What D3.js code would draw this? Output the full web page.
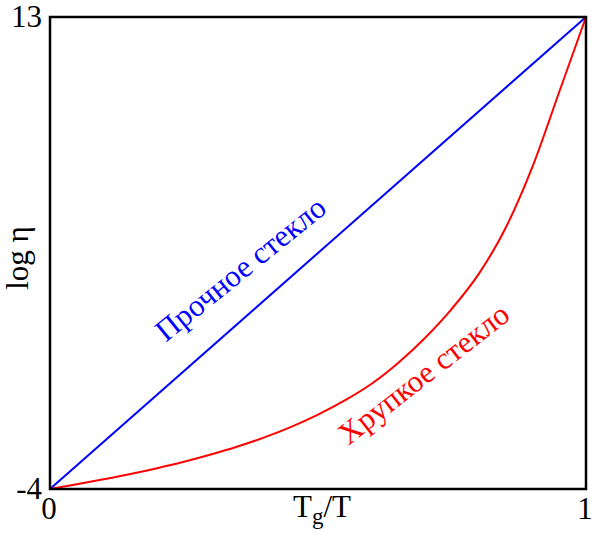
<!DOCTYPE html>
<html>
<head>
<meta charset="utf-8">
<script src="https://cdn.jsdelivr.net/npm/d3@7"></script>
<style>
  body { margin: 0; background: #fff; }
</style>
</head>
<body>
<div id="graph"></div>
<script>
var width = 600;
var height = 548;
var margin = {top: 17, right: 14, bottom: 59, left: 50};
var serif = "'Liberation Serif', 'Times New Roman', 'DejaVu Serif', serif";

// data
var xDomain = [0, 1];
var yDomain = [-4, 13];
var xTickLabels = ["0", "1"];
var yTickLabels = ["-4", "13"];
var strongX = [0, 1];
var strongY = [-4, 13];
var fragileX = [0, 0.05, 0.1, 0.15, 0.2, 0.25, 0.3, 0.35, 0.4, 0.45, 0.5, 0.55, 0.6, 0.65, 0.7, 0.75, 0.8, 0.85, 0.9, 0.95, 1];
var fragileY = [-4, -3.83, -3.65, -3.46, -3.25, -3.02, -2.76, -2.47, -2.14, -1.76, -1.32, -0.81, -0.21, 0.55, 1.45, 2.5, 3.75, 5.4, 7.6, 10.3, 13];

var w = width - margin.left - margin.right;
var h = height - margin.top - margin.bottom;

var svg = d3.select("#graph")
    .append("svg")
    .attr("width", width)
    .attr("height", height)
    .attr("font-family", serif);

var g = svg.append("g")
    .attr("transform", "translate(" + margin.left + "," + margin.top + ")");

var x = d3.scaleLinear().domain(xDomain).range([0, w]);
var y = d3.scaleLinear().domain(yDomain).range([h, 0]);

var line = d3.line()
    .x(function(d) { return x(d[0]); })
    .y(function(d) { return y(d[1]); })
    .curve(d3.curveMonotoneX);

g.append("path")
    .datum(strongX.map(function(v, i) { return [v, strongY[i]]; }))
    .attr("d", line)
    .attr("fill", "none")
    .attr("stroke", "#0000ff")
    .attr("stroke-width", 2);

g.append("path")
    .datum(fragileX.map(function(v, i) { return [v, fragileY[i]]; }))
    .attr("d", line)
    .attr("fill", "none")
    .attr("stroke", "#ff0000")
    .attr("stroke-width", 2);

// frame
g.append("rect")
    .attr("x", 0)
    .attr("y", 0)
    .attr("width", w)
    .attr("height", h)
    .attr("fill", "none")
    .attr("stroke", "#000")
    .attr("stroke-width", 2.5);

// tick labels
g.selectAll(".xlab")
    .data(xDomain)
    .enter().append("text")
    .attr("class", "xlab")
    .attr("x", function(d) { return x(d) - 1; })
    .attr("y", h + 30)
    .attr("text-anchor", "middle")
    .attr("font-size", 31)
    .text(function(d, i) { return xTickLabels[i]; });

g.selectAll(".ylab")
    .data(yDomain)
    .enter().append("text")
    .attr("class", "ylab")
    .attr("x", -8)
    .attr("y", function(d) { return y(d) + 10; })
    .attr("text-anchor", "end")
    .attr("font-size", 31)
    .text(function(d, i) { return yTickLabels[i]; });

// axis titles
var xt = g.append("text")
    .attr("x", w / 2 + 4)
    .attr("y", h + 28)
    .attr("text-anchor", "middle")
    .attr("font-size", 31);
xt.append("tspan").text("T");
xt.append("tspan").attr("dy", 7).attr("font-size", 23).text("g");
xt.append("tspan").attr("dy", -7).text("/T");

g.append("text")
    .attr("transform", "translate(-22," + (h / 2 + 5) + ") rotate(-90)")
    .attr("text-anchor", "middle")
    .attr("font-size", 31)
    .text("log η");

// curve labels
g.append("text")
    .attr("transform", "translate(" + (247 - margin.left) + "," + (277 - margin.top) + ") rotate(-39)")
    .attr("text-anchor", "middle")
    .attr("fill", "#0000ff")
    .attr("font-size", 31)
    .text("Прочное стекло");

g.append("text")
    .attr("transform", "translate(" + (430 - margin.left) + "," + (382 - margin.top) + ") rotate(-38)")
    .attr("text-anchor", "middle")
    .attr("fill", "#ff0000")
    .attr("font-size", 31)
    .text("Хрупкое стекло");
</script>
</body>
</html>
